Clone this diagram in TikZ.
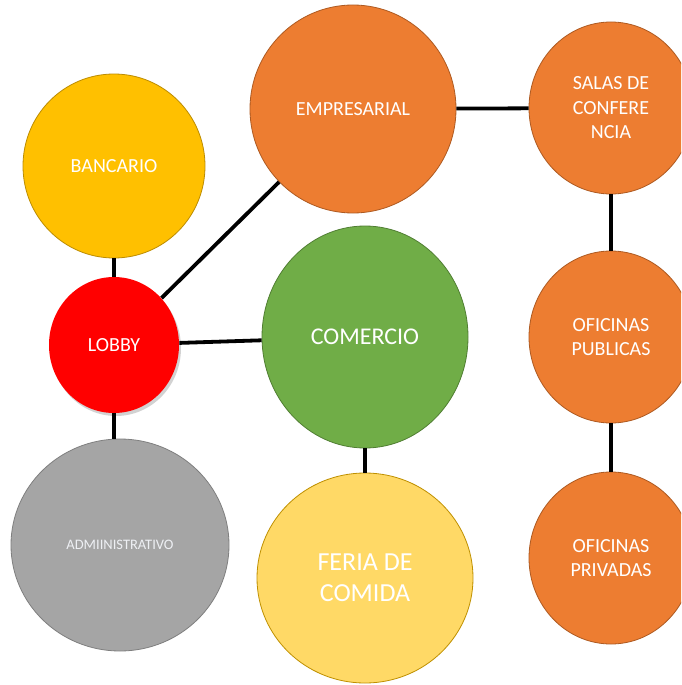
\documentclass[tikz,border=0pt]{standalone}
\usepackage{fontspec}
\setmainfont{Carlito}
\usetikzlibrary{shapes.geometric,shadows}
\definecolor{cBanc}{HTML}{FFC000}
\definecolor{cBancD}{HTML}{BC8C00}
\definecolor{cOrg}{HTML}{ED7D31}
\definecolor{cOrgD}{HTML}{AE5A21}
\definecolor{cGrn}{HTML}{70AD47}
\definecolor{cGrnD}{HTML}{507E32}
\definecolor{cRed}{HTML}{FF0000}
\definecolor{cGry}{HTML}{A5A5A5}
\definecolor{cGryD}{HTML}{7F7F7F}
\definecolor{cFer}{HTML}{FFD966}
\definecolor{cFerD}{HTML}{BF9000}
\definecolor{cTxtA}{HTML}{EEF0F4}
\tikzset{
  bubble/.style args={#1/#2/#3/#4}{ellipse, inner sep=0pt, fill=#1, draw=#2, line width=0.8pt,
     minimum width=#3pt, minimum height=#4pt, text=white, align=center,
     font=\fontsize{20}{24.5}\selectfont},
  link/.style={line width=3.8pt, black}
}
\begin{document}
\begin{tikzpicture}[x=1pt,y=-1pt]
\useasboundingbox (0,0) rectangle (681,685);
\clip (0,0) rectangle (681,685);
\fill[white] (0,0) rectangle (681,685);
\node[bubble=cBanc/cBancD/182/184] (banc) at (114,166) {BANCARIO};
\node[bubble=cOrg/cOrgD/206/208] (emp) at (353,109) {EMPRESARIAL};
\node[bubble=cOrg/cOrgD/164/172] (salas) at (611,108) {SALAS DE\\CONFERE\\NCIA};
\node[bubble=cRed/cRed/130/136, draw=none, drop shadow={shadow xshift=2pt, shadow yshift=-3pt, opacity=0.35}] (lobby) at (114,345) {LOBBY};
\node[bubble=cGrn/cGrnD/206/222, font=\fontsize{24}{29}\selectfont] (com) at (365,337) {COMERCIO};
\node[bubble=cOrg/cOrgD/164/172] (pub) at (611,337) {OFICINAS\\PUBLICAS};
\node[bubble=cGry/cGryD/218/212, font=\fontsize{14.5}{17}\selectfont, text=cTxtA] (adm) at (120,545) {ADMIINISTRATIVO};
\node[bubble=cFer/cFerD/216/210, font=\fontsize{26}{31}\selectfont] (fer) at (365,578) {FERIA DE\\COMIDA};
\node[bubble=cOrg/cOrgD/164/172] (priv) at (611,558) {OFICINAS\\PRIVADAS};
\draw[link] (banc) -- (lobby);
\draw[link] (lobby) -- (emp);
\draw[link] (lobby) -- (com);
\draw[link] (lobby.south) -- (lobby.south |- adm.north);
\draw[link] (emp) -- (salas);
\draw[link] (salas) -- (pub);
\draw[link] (pub) -- (priv);
\draw[link] (com.south) -- (com.south |- fer.north);
\end{tikzpicture}
\end{document}
